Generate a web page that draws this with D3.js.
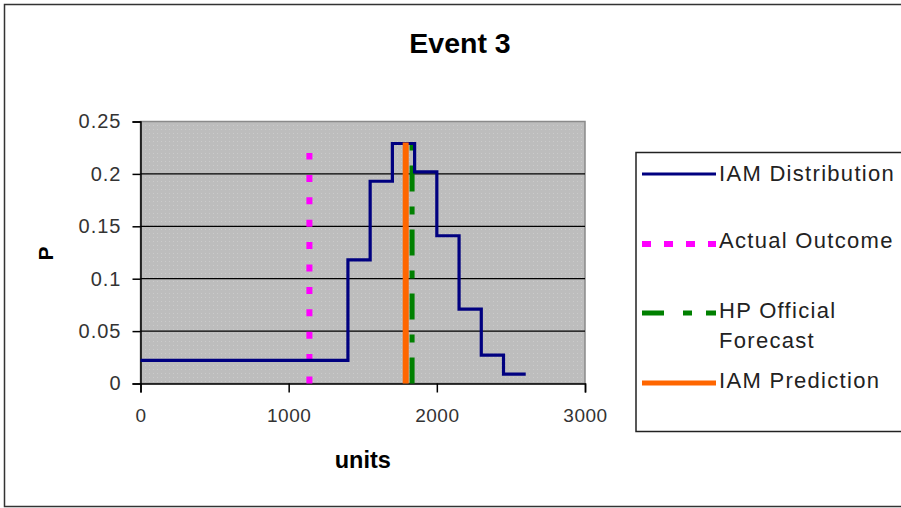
<!DOCTYPE html>
<html>
<head>
<meta charset="utf-8">
<script src="https://cdn.jsdelivr.net/npm/d3@7"></script>
<style>
  body { margin: 0; background: #fff; }
  text { font-family: "Liberation Sans", Arial, sans-serif; }
</style>
</head>
<body>
<div id="chart"></div>
<script>
// IAM distribution (step, value holds until next x)
var distUnits = [0, 1400, 1550, 1700, 1850, 2000, 2150, 2300, 2450, 2600],
    distP     = [0.022, 0.118, 0.193, 0.229, 0.202, 0.141, 0.071, 0.027, 0.009, 0.009];

// vertical markers
var markerNames = ["Actual Outcome", "HP Official Forecast", "IAM Prediction"],
    markerUnits = [1140, 1833, 1790],
    markerTop   = [0.22, 0.229, 0.23];

var xTicks = [0, 1000, 2000, 3000],
    yTicks = [0, 0.05, 0.1, 0.15, 0.2, 0.25];

var legendLabels = ["IAM Distribution", "Actual Outcome", "HP Official|Forecast", "IAM Prediction"];

var width = 901,
    height = 508,
    plot = {left: 140.5, right: 585, top: 121.5, bottom: 383.5};

var svg = d3.select('#chart')
    .append('svg')
    .attr('width', width)
    .attr('height', height);

svg.append('rect')
    .attr('width', width).attr('height', height)
    .attr('fill', '#fff');

// outer chart frame (right edge runs off the picture)
svg.append('rect')
    .attr('x', 4.5).attr('y', 4.5)
    .attr('width', 1000).attr('height', 502)
    .attr('fill', 'none')
    .attr('stroke', '#333')
    .attr('stroke-width', 1.5);

var x = d3.scaleLinear().domain([0, 3000]).range([plot.left, plot.right]),
    y = d3.scaleLinear().domain([0, 0.25]).range([plot.bottom, plot.top]);

// dotted grey plot background
var pat = svg.append('defs').append('pattern')
    .attr('id', 'dots')
    .attr('width', 4).attr('height', 4)
    .attr('patternUnits', 'userSpaceOnUse');
pat.append('rect').attr('width', 4).attr('height', 4).attr('fill', '#bdbdbd');
pat.append('rect').attr('x', 1).attr('y', 1).attr('width', 1).attr('height', 1).attr('fill', '#cbcbcb');

svg.append('rect')
    .attr('x', plot.left).attr('y', plot.top)
    .attr('width', plot.right - plot.left)
    .attr('height', plot.bottom - plot.top)
    .attr('fill', 'url(#dots)')
    .attr('stroke', '#8a8a8a')
    .attr('stroke-width', 1.5);

// horizontal gridlines
svg.selectAll('line.grid')
    .data(yTicks.filter(function (d) { return d > 0 && d < 0.25; }))
    .enter()
    .append('line')
    .attr('class', 'grid')
    .attr('x1', plot.left).attr('x2', plot.right)
    .attr('y1', function (d) { return y(d); })
    .attr('y2', function (d) { return y(d); })
    .attr('stroke', '#000')
    .attr('stroke-width', 1.2);

// axes
var yAxis = svg.append('g')
    .attr('transform', 'translate(' + plot.left + ',0)')
    .call(d3.axisLeft(y).tickValues(yTicks).tickSize(8).tickPadding(11)
        .tickFormat(function (d) { return String(+d.toFixed(2)); }));

var xAxis = svg.append('g')
    .attr('transform', 'translate(0,' + plot.bottom + ')')
    .call(d3.axisBottom(x).tickValues(xTicks).tickSize(9).tickPadding(16)
        .tickFormat(d3.format('d')));

[yAxis, xAxis].forEach(function (g) {
    g.select('.domain').attr('stroke', '#000').attr('stroke-width', 1.5);
    g.selectAll('.tick line').attr('stroke', '#000').attr('stroke-width', 1.5);
    g.selectAll('.tick text').attr('fill', '#333');
});
yAxis.selectAll('.tick text').style('font-size', '20px').style('letter-spacing', '1px');
xAxis.selectAll('.tick text').style('font-size', '19px').style('letter-spacing', '0.5px');

// vertical marker lines, drawn from the bottom up so the dashes start at the axis
var markerStyle = [
    {color: '#ff00ff', width: 6, dash: '7,15.4'},
    {color: '#008000', width: 5, dash: '26,15,8,15'},
    {color: '#ff6600', width: 6, dash: null}
];

[1, 0].forEach(function (i) {
    svg.append('line')
        .attr('x1', x(markerUnits[i])).attr('x2', x(markerUnits[i]))
        .attr('y1', y(0)).attr('y2', y(markerTop[i]))
        .attr('stroke', markerStyle[i].color)
        .attr('stroke-width', markerStyle[i].width)
        .attr('stroke-dasharray', markerStyle[i].dash);
});

// distribution step line
var dist = distUnits.map(function (u, i) { return [u, distP[i]]; });

var line = d3.line()
    .x(function (d) { return x(d[0]); })
    .y(function (d) { return y(d[1]); })
    .curve(d3.curveStepAfter);

svg.append('path')
    .datum(dist)
    .attr('d', line)
    .attr('fill', 'none')
    .attr('stroke', '#000080')
    .attr('stroke-width', 3.2);

// orange prediction drawn over the blue, as in the reference
svg.append('line')
    .attr('x1', x(markerUnits[2])).attr('x2', x(markerUnits[2]))
    .attr('y1', y(0)).attr('y2', y(markerTop[2]))
    .attr('stroke', markerStyle[2].color)
    .attr('stroke-width', markerStyle[2].width);

// titles
svg.append('text')
    .attr('x', 460).attr('y', 53)
    .attr('text-anchor', 'middle')
    .style('font-size', '28.5px').style('font-weight', 'bold')
    .text('Event 3');

svg.append('text')
    .attr('x', (plot.left + plot.right) / 2).attr('y', 468)
    .attr('text-anchor', 'middle')
    .style('font-size', '23.5px').style('font-weight', 'bold')
    .text('units');

svg.append('text')
    .attr('transform', 'translate(53,253.5) rotate(-90)')
    .attr('text-anchor', 'middle')
    .style('font-size', '21px').style('font-weight', 'bold')
    .text('P');

// legend
var legend = svg.append('g');

legend.append('rect')
    .attr('x', 636).attr('y', 152.5)
    .attr('width', 300).attr('height', 279)
    .attr('fill', '#fff')
    .attr('stroke', '#222')
    .attr('stroke-width', 1.5);

var legendItems = [
    {color: '#000080', width: 3, dash: null, ly: 174, ty: [181]},
    {color: '#ff00ff', width: 6, dash: '9,13', ly: 244, ty: [248]},
    {color: '#008000', width: 5, dash: '22,19,9,14', ly: 313, ty: [318, 348]},
    {color: '#ff6600', width: 5, dash: null, ly: 383, ty: [388]}
];

legendItems.forEach(function (d, i) {
    legend.append('line')
        .attr('x1', 642).attr('x2', 716)
        .attr('y1', d.ly).attr('y2', d.ly)
        .attr('stroke', d.color)
        .attr('stroke-width', d.width)
        .attr('stroke-dasharray', d.dash);
    legendLabels[i].split('|').forEach(function (s, j) {
        legend.append('text')
            .attr('x', 719).attr('y', d.ty[j])
            .attr('fill', '#222')
            .style('font-size', '22px')
            .style('letter-spacing', '1.3px')
            .text(s);
    });
});
</script>
</body>
</html>
